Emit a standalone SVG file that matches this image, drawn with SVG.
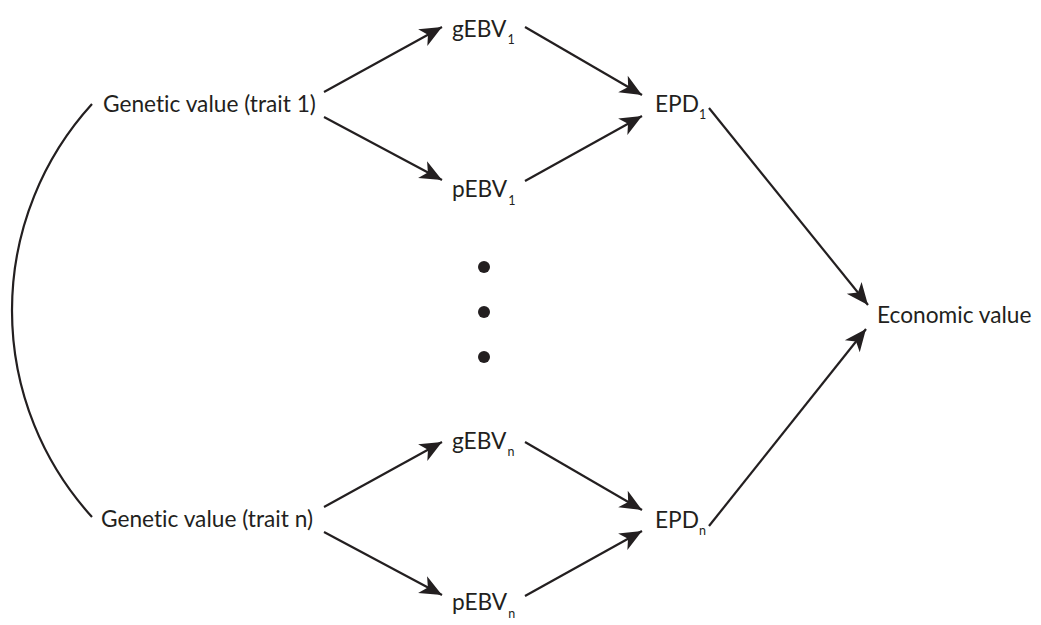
<svg xmlns="http://www.w3.org/2000/svg" width="1041" height="625" viewBox="0 0 1041 625">
  <style>
    .lbl { font-family: Lato, "Open Sans", "Liberation Sans", sans-serif; font-size: 22.7px; fill: #231f20; font-variant-ligatures: none; }
    .sub { font-size: 12.5px; }
    .edge { fill: none; stroke: #231f20; stroke-width: 2.2; }
    .dot { fill: #231f20; }
  </style>
  <defs>
    <marker id="head" markerUnits="userSpaceOnUse" markerWidth="24" markerHeight="22" viewBox="-23 -11 24 22" refX="0" refY="0" orient="auto">
      <path d="M0,0 L-22,-9.5 L-16,0 L-22,9.5 Z" fill="#231f20"/>
    </marker>
  </defs>

  <rect width="1041" height="625" fill="#ffffff"/>

  <!-- connectors -->
  <g id="connectors">
    <path class="edge" d="M92,104 A306.5,306.5 0 0 0 92,517"/>
    <!-- trait 1 -->
    <line class="edge" x1="324" y1="92" x2="442" y2="27" marker-end="url(#head)"/>
    <line class="edge" x1="324" y1="117" x2="442" y2="180" marker-end="url(#head)"/>
    <line class="edge" x1="525" y1="27" x2="642" y2="95" marker-end="url(#head)"/>
    <line class="edge" x1="525" y1="181" x2="642" y2="116" marker-end="url(#head)"/>
    <line class="edge" x1="709" y1="108" x2="868" y2="305" marker-end="url(#head)"/>
    <!-- trait n -->
    <line class="edge" x1="324" y1="507" x2="442" y2="442" marker-end="url(#head)"/>
    <line class="edge" x1="324" y1="532" x2="442" y2="595" marker-end="url(#head)"/>
    <line class="edge" x1="525" y1="442" x2="642" y2="510" marker-end="url(#head)"/>
    <line class="edge" x1="525" y1="596" x2="642" y2="531" marker-end="url(#head)"/>
    <line class="edge" x1="709" y1="526" x2="866" y2="329" marker-end="url(#head)"/>
  </g>

  <!-- nodes -->
  <g id="genetic-1"><text class="lbl" x="103" y="112">Genetic value (trait 1)</text></g>
  <g id="genetic-n"><text class="lbl" x="101" y="527">Genetic value (trait n)</text></g>

  <g id="gebv-1"><text class="lbl" x="452" y="37">gEBV<tspan class="sub" dx="1" dy="7">1</tspan></text></g>
  <g id="pebv-1"><text class="lbl" x="452" y="197">pEBV<tspan class="sub" dx="1" dy="8">1</tspan></text></g>
  <g id="epd-1"><text class="lbl" x="655" y="112">EPD<tspan class="sub" dx="0" dy="7">1</tspan></text></g>

  <g id="gebv-n"><text class="lbl" x="452" y="449">gEBV<tspan class="sub" dx="1" dy="7">n</tspan></text></g>
  <g id="pebv-n"><text class="lbl" x="452" y="610">pEBV<tspan class="sub" dx="1" dy="8">n</tspan></text></g>
  <g id="epd-n"><text class="lbl" x="655" y="528">EPD<tspan class="sub" dx="0" dy="7">n</tspan></text></g>

  <g id="economic"><text class="lbl" x="877" y="323">Economic value</text></g>

  <g id="ellipsis">
    <circle class="dot" cx="484" cy="267" r="6"/>
    <circle class="dot" cx="484" cy="312" r="6"/>
    <circle class="dot" cx="484" cy="357" r="6"/>
  </g>
</svg>
